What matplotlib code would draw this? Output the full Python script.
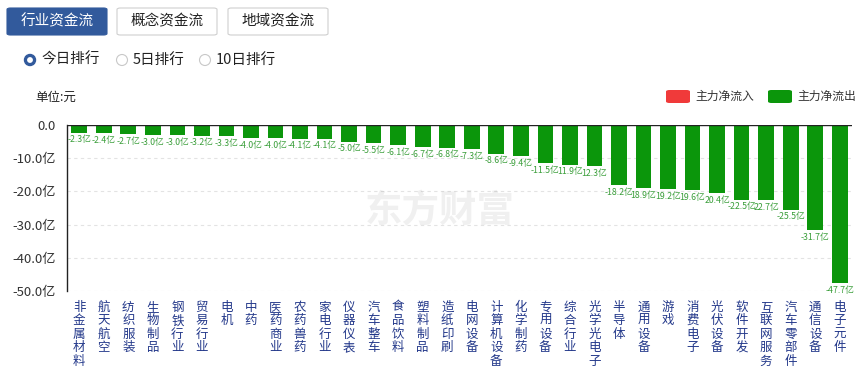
import matplotlib
matplotlib.use("Agg")
import matplotlib.pyplot as plt
from matplotlib.patches import FancyBboxPatch, Circle

plt.rcParams['font.family'] = ['Noto Sans CJK SC', 'DejaVu Sans']

# data
industries = ["非金属材料", "航天航空", "纺织服装", "生物制品", "钢铁行业", "贸易行业", "电机", "中药",
              "医药商业", "农药兽药", "家电行业", "仪器仪表", "汽车整车", "食品饮料", "塑料制品", "造纸印刷",
              "电网设备", "计算机设备", "化学制药", "专用设备", "综合行业", "光学光电子", "半导体", "通用设备",
              "游戏", "消费电子", "光伏设备", "软件开发", "互联网服务", "汽车零部件", "通信设备", "电子元件"]
net_flow = [-2.3, -2.4, -2.7, -3.0, -3.0, -3.2, -3.3, -4.0, -4.0, -4.1, -4.1, -5.0, -5.5, -6.1, -6.7, -6.8,
            -7.3, -8.6, -9.4, -11.5, -11.9, -12.3, -18.2, -18.9, -19.2, -19.6, -20.4, -22.5, -22.7, -25.5,
            -31.7, -47.7]
# labels whose minus sign is covered by the neighbour in the original
sign_hidden = ["综合行业", "光学光电子", "通用设备", "游戏", "消费电子", "光伏设备", "互联网服务"]
y_ticks = [0, -10, -20, -30, -40, -50]
tabs = ["行业资金流", "概念资金流", "地域资金流"]
ranks = ["今日排行", "5日排行", "10日排行"]

W, H = 868, 367
GREEN = '#0b960b'
RED = '#f03a3a'
NAVY = '#23388a'

fig = plt.figure(figsize=(W / 100, H / 100), dpi=100)
ax = fig.add_axes([67 / W, 1 - 291 / H, (852 - 67) / W, (291 - 125) / H])

def px(x, y):
    return x / W, 1 - y / H

# top tabs
tab_x = [7, 117, 228]
for i, (t, x0) in enumerate(zip(tabs, tab_x)):
    fx, fy = px(x0, 35)
    box = FancyBboxPatch((fx, fy), 100 / W, 27 / H, boxstyle="round,pad=0,rounding_size=0.004",
                         transform=fig.transFigure, facecolor='#325a9c' if i == 0 else 'white',
                         edgecolor='#325a9c' if i == 0 else '#cfcfcf', linewidth=0.8)
    fig.patches.append(box)
    cx, cy = px(x0 + 50, 21.5)
    fig.text(cx, cy, t, ha='center', va='center', fontsize=10.5,
             color='white' if i == 0 else '#222222')

# radio buttons
radio_x = [30, 122, 205]
for i, (r, x0) in enumerate(zip(ranks, radio_x)):
    if i == 0:
        fig.add_artist(Circle((x0, H - 60), 5.5, transform=None, facecolor='#325a9c', edgecolor='#325a9c'))
        fig.add_artist(Circle((x0, H - 60), 2.2, transform=None, facecolor='white', edgecolor='white'))
    else:
        fig.add_artist(Circle((x0, H - 60), 5.5, transform=None, facecolor='white', edgecolor='#c8c8c8', lw=0.8))
    tx, ty = px(x0 + 11, 60)
    fig.text(tx, ty, r, ha='left', va='center', fontsize=10.5, color='#222222')

# unit label and legend
ux, uy = px(35, 97)
fig.text(ux, uy, "单位:元", ha='left', va='center', fontsize=9, color='#222222')
for x0, c, lab in [(666, RED, "主力净流入"), (768, GREEN, "主力净流出")]:
    fx, fy = px(x0, 103)
    fig.patches.append(FancyBboxPatch((fx, fy), 24 / W, 13 / H, boxstyle="round,pad=0,rounding_size=0.004",
                                      transform=fig.transFigure, facecolor=c, edgecolor='none'))
    tx, ty = px(x0 + 29, 96.5)
    fig.text(tx, ty, lab, ha='left', va='center', fontsize=8.5, color='#333333')

# watermark
wx, wy = px(440, 211)
fig.text(wx, wy, "东方财富", ha='center', va='center', fontsize=27, fontweight='bold',
         color='#000000', alpha=0.06)

# bars
xs = list(range(len(industries)))
ax.bar(xs, net_flow, width=0.64, color=GREEN, zorder=3)
for x, name, v in zip(xs, industries, net_flow):
    lab = f"{abs(v):.1f}亿" if name in sign_hidden else f"{v:.1f}亿"
    ax.annotate(lab, (x, v), xytext=(0, -2), textcoords='offset points',
                ha='center', va='top', fontsize=6.3, color='#3a9e3a', zorder=4)

ax.set_xlim(-0.5, len(industries) - 0.5)
ax.set_ylim(-50, 0)
ax.set_yticks(y_ticks)
ax.set_yticklabels([f"{t:.1f}" if t == 0 else f"{t:.1f}亿" for t in y_ticks], fontsize=9.5, color='#333333')
ax.yaxis.grid(True, linestyle=(0, (3, 3)), color='#e3e3e3', linewidth=0.8)
ax.set_axisbelow(True)
ax.axhline(0, color='#222222', linewidth=1.0, zorder=5)
ax.tick_params(axis='y', length=0, pad=8)
ax.tick_params(axis='x', length=0, pad=7)
ax.set_xticks(xs)
ax.set_xticklabels(["\n".join(name) for name in industries], fontsize=9, color=NAVY,
                   va='top', linespacing=1.05)
for s in ['top', 'right', 'bottom']:
    ax.spines[s].set_visible(False)
ax.spines['left'].set_color('#222222')
ax.spines['left'].set_linewidth(1.0)

fig.savefig("out.png", dpi=100)
